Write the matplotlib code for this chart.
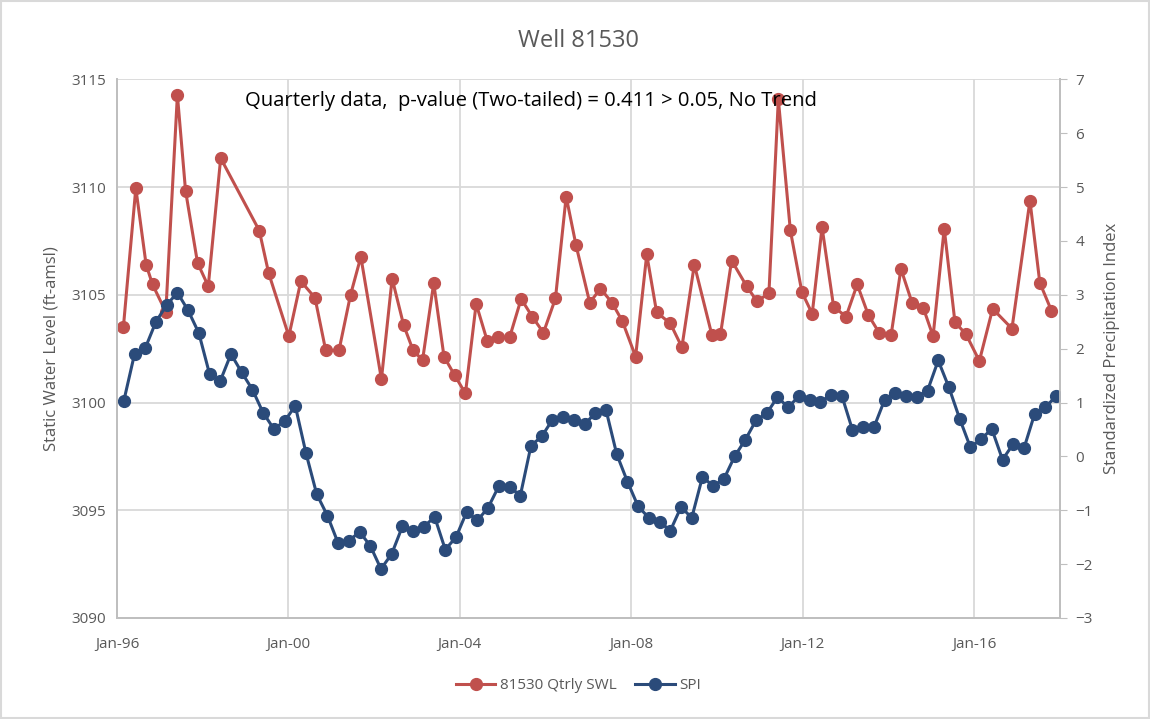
import matplotlib
matplotlib.use("Agg")
import matplotlib.pyplot as plt
import numpy as np
import pandas as pd

# static water level (left axis), sample dates as decimal years
swl_years = [1996.15, 1996.44, 1996.68, 1996.83, 1997.14, 1997.41, 1997.60, 1997.88,
             1998.13, 1998.42, 1999.32, 1999.54, 2000.01, 2000.29, 2000.62, 2000.87,
             2001.18, 2001.45, 2001.69, 2002.17, 2002.42, 2002.69, 2002.91, 2003.13,
             2003.39, 2003.63, 2003.88, 2004.13, 2004.38, 2004.64, 2004.90, 2005.16,
             2005.43, 2005.69, 2005.95, 2006.23, 2006.48, 2006.71, 2007.03, 2007.28,
             2007.55, 2007.79, 2008.10, 2008.36, 2008.59, 2008.91, 2009.18, 2009.47,
             2009.88, 2010.08, 2010.34, 2010.69, 2010.93, 2011.21, 2011.43, 2011.71,
             2011.98, 2012.22, 2012.45, 2012.72, 2013.01, 2013.27, 2013.53, 2013.79,
             2014.06, 2014.29, 2014.55, 2014.81, 2015.04, 2015.30, 2015.55, 2015.81,
             2016.12, 2016.43, 2016.88, 2017.30, 2017.53, 2017.80]
swl = [3103.5, 3109.95, 3106.4, 3105.48, 3104.2, 3114.27, 3109.83, 3106.48,
       3105.4, 3111.34, 3107.98, 3106.0, 3103.08, 3105.63, 3104.86, 3102.42,
       3102.42, 3105.0, 3106.76, 3101.08, 3105.75, 3103.58, 3102.42, 3101.97,
       3105.54, 3102.13, 3101.26, 3100.42, 3104.58, 3102.85, 3103.02, 3103.02,
       3104.81, 3103.98, 3103.24, 3104.83, 3109.56, 3107.30, 3104.63, 3105.29,
       3104.63, 3103.78, 3102.13, 3106.87, 3104.19, 3103.67, 3102.57, 3106.40,
       3103.13, 3103.16, 3106.59, 3105.4, 3104.7, 3105.06, 3114.07, 3107.99,
       3105.12, 3104.12, 3108.13, 3104.44, 3103.99, 3105.48, 3104.06, 3103.21,
       3103.12, 3106.2, 3104.63, 3104.40, 3103.08, 3108.07, 3103.73, 3103.16,
       3101.93, 3104.35, 3103.43, 3109.37, 3105.56, 3104.27]

# SPI (right axis), quarterly from Mar-96
spi_start = 1996.16
spi = [1.03, 1.90, 2.01, 2.50, 2.81, 3.04, 2.71, 2.29, 1.53, 1.40, 1.90, 1.56,
       1.24, 0.81, 0.51, 0.65, 0.94, 0.06, -0.70, -1.10, -1.61, -1.57, -1.40, -1.66,
       -2.09, -1.81, -1.30, -1.39, -1.31, -1.12, -1.73, -1.50, -1.03, -1.19, -0.95, -0.55,
       -0.56, -0.73, 0.20, 0.37, 0.68, 0.73, 0.68, 0.60, 0.80, 0.86, 0.04, -0.47,
       -0.93, -1.14, -1.21, -1.38, -0.94, -1.14, -0.38, -0.55, -0.42, 0.00, 0.31, 0.67,
       0.80, 1.10, 0.91, 1.12, 1.04, 1.01, 1.14, 1.13, 0.49, 0.55, 0.54, 1.05,
       1.17, 1.13, 1.11, 1.22, 1.78, 1.28, 0.70, 0.17, 0.32, 0.51, -0.06, 0.23,
       0.15, 0.79, 0.91, 1.12]
spi_years = spi_start + 0.25 * np.arange(len(spi))

tick_years = [1996, 2000, 2004, 2008, 2012, 2016]
tick_labels = ["Jan-96", "Jan-00", "Jan-04", "Jan-08", "Jan-12", "Jan-16"]

plt.rcParams['font.family'] = ['Open Sans', 'DejaVu Sans']
red = "#C0504D"
blue = "#2B4B7A"
grey_txt = "#595959"
grid_c = "#D9D9D9"

fig = plt.figure(figsize=(11.5, 7.19), dpi=100)
ax = fig.add_axes([0.1017, 0.1405, 0.8200, 0.7492])
ax2 = ax.twinx()

l1, = ax.plot(swl_years, swl, color=red, lw=2.2, marker='o', ms=8.5,
              label="81530 Qtrly SWL")
l2, = ax2.plot(spi_years, spi, color=blue, lw=2.2, marker='o', ms=8.5,
               label="SPI")

ax.set_xlim(1996, 2018)
ax.set_ylim(3090, 3115)
ax.set_yticks(np.arange(3090, 3116, 5))
ax2.set_ylim(-3, 7)
ax2.set_yticks(np.arange(-3, 8, 1))
ax.set_xticks(tick_years)
ax.set_xticklabels(tick_labels)

ax.grid(True, color=grid_c, lw=1.3)
ax.set_axisbelow(True)
for a in (ax, ax2):
    for s in a.spines.values():
        s.set_color("#BFBFBF")
        s.set_linewidth(1.3)
    a.spines['top'].set_visible(False)
ax.tick_params(axis='both', length=0, labelsize=11, labelcolor=grey_txt, pad=8)
ax2.tick_params(axis='y', length=5, color="#BFBFBF", labelsize=11,
                labelcolor=grey_txt, pad=6)
ax.tick_params(axis='x', pad=14)

ax.set_ylabel("Static Water Level (ft-amsl)", fontsize=12, color=grey_txt, labelpad=8)
ax2.set_ylabel("Standardized Precipitation Index", fontsize=12, color=grey_txt, labelpad=8)

fig.suptitle("Well 81530", x=0.503, y=0.96, fontsize=17, color=grey_txt)
ax.text(0.136, 0.96, "Quarterly data,  p-value (Two-tailed) = 0.411 > 0.05, No Trend",
        transform=ax.transAxes, ha='left', va='center', fontsize=14.6, color='black')

fig.legend(handles=[l1, l2], loc='center', bbox_to_anchor=(0.503, 0.046), ncol=2,
           frameon=False, fontsize=11, labelcolor=grey_txt, handlelength=2.6,
           columnspacing=1.2, handletextpad=0.3)

fig.patches.append(plt.Rectangle((0.001, 0.001), 0.998, 0.998, transform=fig.transFigure,
                                 fill=False, edgecolor="#D9D9D9", lw=1.5))

fig.savefig("out.png", dpi=100)
